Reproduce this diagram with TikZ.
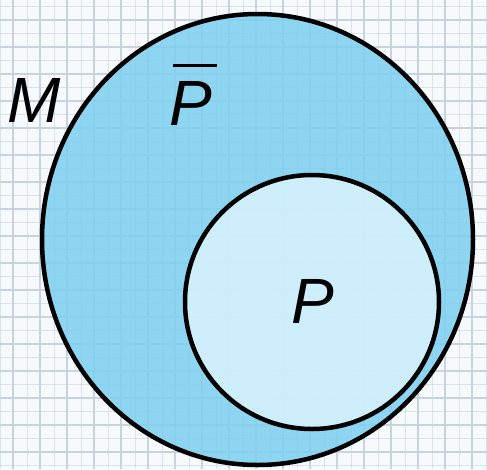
\documentclass[tikz,border=0pt]{standalone}
\usepackage{fontspec}
\setmainfont{Liberation Sans}
\usetikzlibrary{positioning}
\definecolor{paper}{RGB}{246,250,253}
\definecolor{gridline}{RGB}{200,210,224}
\definecolor{outerblue}{RGB}{124,207,240}
\definecolor{innerblue}{RGB}{214,242,252}
\tikzset{
    minorline/.style={draw=gridline, line width=0.6pt, opacity=0.6},
    majorline/.style={draw=gridline, line width=1.3pt},
    setM/.style={draw=black, line width=4.5pt, fill=outerblue, fill opacity=0.85},
    setP/.style={draw=black, line width=4.5pt, fill=innerblue, fill opacity=0.88},
    setlabel/.style={font=\fontsize{64}{70}\selectfont\itshape, inner sep=0pt, anchor=base west}
}
\begin{document}
\begin{tikzpicture}[x=1pt, y=-1pt]
    \useasboundingbox (0,0) rectangle (487,469);
    \fill[paper] (0,0) rectangle (487,469);
    % grid paper
    \foreach \gx in {0,13.5,...,487} {\draw[minorline] (\gx,0) -- (\gx,469);}
    \foreach \gy in {6.5,20,...,469} {\draw[minorline] (0,\gy) -- (487,\gy);}
    \foreach \gx in {13,40,...,487} {\draw[majorline] (\gx,0) -- (\gx,469);}
    \foreach \gy in {20,47,...,469} {\draw[majorline] (0,\gy) -- (487,\gy);}

    \draw[setM] (257.5,239.5) ellipse [x radius=215.5, y radius=225.5];
    \draw[setP] (312,302) circle [radius=127];

    \node (labM) [setlabel] at (7,122) {M};
    \node (labPbar) [setlabel] at (169,125) {\rlap{\kern4pt\rule[58pt]{44pt}{3pt}}P};
    \node (labP) [setlabel] at (291,323) {P};
\end{tikzpicture}
\end{document}
